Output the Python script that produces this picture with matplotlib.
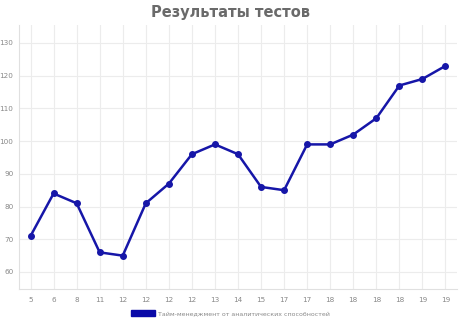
import matplotlib
matplotlib.use("Agg")
import matplotlib.pyplot as plt
from matplotlib.patches import Patch

labels = ["5", "6", "8", "11", "12", "12", "12", "12", "13", "14", "15", "17", "17", "18", "18", "18", "18", "19", "19"]
values = [71, 84, 81, 66, 65, 81, 87, 96, 99, 96, 86, 85, 99, 99, 102, 107, 117, 119, 123]
series_name = "Тайм-менеджмент от аналитических способностей"
title = "Результаты тестов"

W, H = 461, 322
fig = plt.figure(figsize=(W / 100, H / 100), dpi=100)
ax = fig.add_axes([19 / W, (H - 289) / H, (457 - 19) / W, (289 - 25) / H])

x = list(range(len(values)))
color = "#1616a8"
ax.plot(x, values, color=color, linewidth=1.8, marker="o", markersize=4, zorder=3)

ax.set_xlim(-0.5, len(values) - 0.5)
ax.set_ylim(54.8, 135.5)
ax.set_yticks(range(60, 131, 10))
ax.set_xticks(x)
ax.set_xticklabels(labels)

gc = "#ececec"
ax.grid(True, color=gc, linewidth=0.8)
ax.set_axisbelow(True)
for s in ["top", "right"]:
    ax.spines[s].set_visible(False)
for s in ["left", "bottom"]:
    ax.spines[s].set_color("#e0e0e0")
    ax.spines[s].set_linewidth(0.8)
ax.tick_params(axis="x", colors="#888888", labelsize=5.2, length=0, pad=6)
ax.tick_params(axis="y", colors="#888888", labelsize=5.2, length=0, pad=4)

fig.text(0.5, 1 - 12 / H, title, ha="center", va="center", fontsize=10.5,
         fontweight="bold", color="#6a6a6a")

handle = Patch(facecolor="#0a0aa8", edgecolor="#0a0aa8")
fig.legend([handle], [series_name], loc="center", bbox_to_anchor=(0.5, 1 - 313 / H),
           frameon=False, fontsize=4.5, handlelength=3.8, handleheight=1.1,
           labelcolor="#888888", handletextpad=0.6)

fig.savefig("out.png", dpi=100)
